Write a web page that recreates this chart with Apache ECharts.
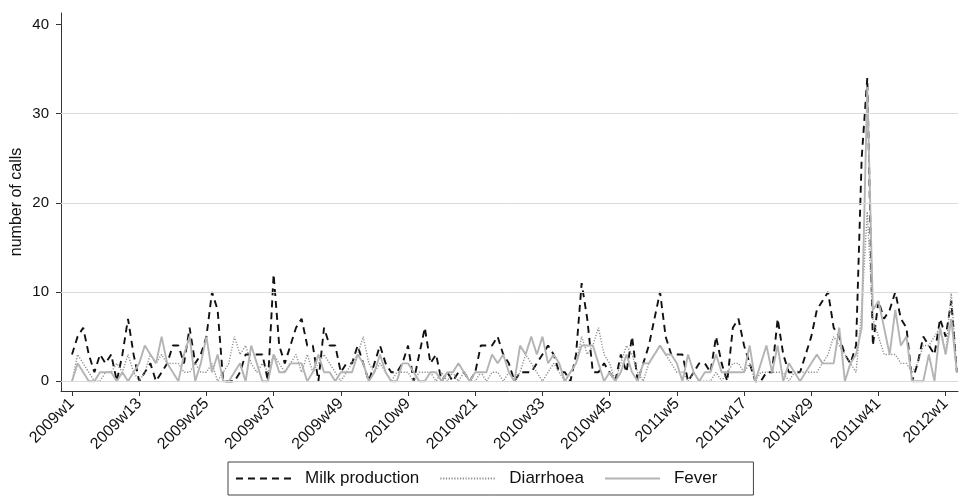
<!DOCTYPE html>
<html>
<head>
<meta charset="utf-8">
<script src="https://cdn.jsdelivr.net/npm/echarts@6/dist/echarts.min.js"></script>
<style>
html,body{margin:0;padding:0;background:#fff;}
#chart{width:963px;height:498px;}
</style>
</head>
<body>
<div id="chart"></div>
<script>
// tick labels every 12 weeks (index 0 = 2009w1, 52 weeks per year)
const tickLabels = ['2009w1','2009w13','2009w25','2009w37','2009w49','2010w9','2010w21','2010w33','2010w45','2011w5','2011w17','2011w29','2011w41','2012w1'];
const tickIdx = [0,12,24,36,48,60,72,84,96,108,120,132,144,156];
const yTicks = [0,10,20,30,40];
const gridVals = [0,10,20,30];

const milk = [
  3,5,6,3,1,3,2,3,0,3,
  7,3,0,1,2,0,1,2,4,4,
  2,6,2,3,5,10,8,0,0,0,
  1,3,3,3,3,0,12,4,2,4,
  6,7,4,4,0,6,4,4,1,2,
  2,4,2,0,2,4,2,1,1,2,
  4,0,3,6,2,3,0,1,0,1,
  1,0,1,4,4,4,5,3,2,0,
  1,1,1,2,3,4,3,1,1,0,
  3,11,7,1,1,2,1,0,3,1,
  5,0,2,4,7,10,5,3,3,3,
  0,1,2,2,1,5,2,0,6,7,
  4,2,0,0,1,1,7,3,1,1,
  1,3,5,8,9,10,6,5,3,2,
  4,25,34,4,9,7,8,10,7,6,
  0,2,5,4,3,7,5,9,1];
const diarrhoea = [
  0,3,2,1,0,0,1,1,2,1,
  3,1,0,1,3,2,3,2,2,2,
  1,1,2,1,1,2,0,1,2,5,
  3,4,2,1,2,1,3,2,1,2,
  3,1,3,1,2,3,2,1,0,1,
  2,3,5,2,1,2,1,0,1,1,
  1,0,1,1,1,0,1,0,1,0,
  1,0,0,1,0,1,1,0,1,0,
  1,3,2,1,0,1,2,1,0,1,
  2,5,3,4,6,3,2,0,2,4,
  3,1,0,2,3,4,3,2,1,1,
  0,1,0,0,0,1,0,1,2,2,
  1,2,0,1,1,1,1,1,0,1,
  1,1,1,1,2,3,5,4,3,2,
  1,8,19,7,5,3,3,3,2,2,
  1,2,4,4,5,6,3,10,1];
const fever = [
  0,2,1,0,0,1,1,1,0,1,
  0,1,2,4,3,2,5,2,1,0,
  3,5,0,2,5,1,3,0,0,1,
  2,0,4,2,0,0,3,1,1,2,
  2,2,0,1,3,1,1,0,1,1,
  1,3,2,0,1,3,1,0,0,2,
  2,1,0,0,1,1,0,1,1,2,
  1,0,1,1,1,3,2,3,1,0,
  4,3,5,3,5,2,3,2,0,1,
  2,4,4,4,2,0,1,0,1,3,
  1,0,2,2,3,4,3,3,2,0,
  3,1,0,1,1,3,1,1,1,1,
  1,4,0,2,4,1,4,0,2,1,
  0,1,2,3,2,2,2,6,0,2,
  3,6,33,8,9,6,3,8,4,5,
  0,0,0,3,0,6,3,7,1];

const pairs = arr => arr.map((v, i) => [i, v]);
const font = 'Liberation Sans, Arial, Helvetica, sans-serif';

const chart = echarts.init(document.getElementById('chart'), null, {renderer: 'canvas'});
chart.setOption({
  animation: false,
  backgroundColor: '#fff',
  textStyle: {fontFamily: font},
  grid: {left: 61, right: 5, top: 13, bottom: 107, containLabel: false},
  xAxis: {
    type: 'value', min: -1.964, max: 158.2,
    axisLine: {show: true, onZero: false, lineStyle: {color: '#333', width: 1}},
    axisTick: {show: true, customValues: tickIdx, length: 5, lineStyle: {color: '#333'}},
    axisLabel: {
      customValues: tickIdx, rotate: 45, margin: 10, fontSize: 16, color: '#111', fontFamily: font,
      formatter: v => { const k = tickIdx.indexOf(Math.round(v)); return k >= 0 ? tickLabels[k] : ''; }
    },
    splitLine: {show: false}
  },
  yAxis: {
    type: 'value', min: -1.1, max: 41.3,
    name: 'number of calls', nameLocation: 'middle', nameGap: 36, nameRotate: 90,
    nameMoveOverlap: false,
    nameTextStyle: {fontSize: 16, color: '#111', fontFamily: font},
    axisLine: {show: true, onZero: false, lineStyle: {color: '#333', width: 1}},
    axisTick: {show: true, customValues: yTicks, length: 5, lineStyle: {color: '#333'}},
    axisLabel: {customValues: yTicks, margin: 12, fontSize: 15, color: '#111', fontFamily: font},
    splitLine: {show: false}
  },
  legend: {
    left: 228, top: 462,
    data: ['Milk production', 'Diarrhoea', 'Fever'],
    itemWidth: 55, itemHeight: 10, itemGap: 20,
    itemStyle: {opacity: 0, borderWidth: 0},
    borderColor: '#444', borderWidth: 1, padding: [8, 36, 8, 7],
    textStyle: {fontSize: 17, color: '#111', fontFamily: font, padding: [0, 0, 0, 9]}
  },
  series: [
    {
      type: 'line', name: 'grid', data: [], z: 1, silent: true,
      markLine: {
        silent: true, symbol: 'none', label: {show: false},
        lineStyle: {color: '#dadada', width: 1, type: 'solid'},
        data: gridVals.map(v => ({yAxis: v}))
      }
    },
    {
      type: 'line', name: 'Milk production', data: pairs(milk), z: 2,
      symbol: 'none', showSymbol: false,
      lineStyle: {color: '#111', width: 1.9, type: [7, 5]},
      itemStyle: {color: '#111'}
    },
    {
      type: 'line', name: 'Diarrhoea', data: pairs(diarrhoea), z: 3,
      symbol: 'none', showSymbol: false,
      lineStyle: {color: '#8c8c8c', width: 1.4, type: [1.2, 1.6]},
      itemStyle: {color: '#8c8c8c'}
    },
    {
      type: 'line', name: 'Fever', data: pairs(fever), z: 4,
      symbol: 'none', showSymbol: false,
      lineStyle: {color: '#b4b4b4', width: 1.9, type: 'solid'},
      itemStyle: {color: '#b4b4b4'}
    }
  ]
});
</script>
</body>
</html>
